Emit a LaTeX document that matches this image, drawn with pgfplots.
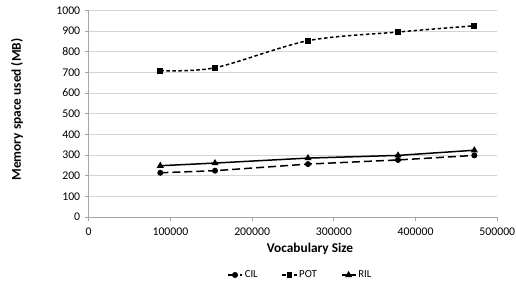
\documentclass[border=0pt]{standalone}
\usepackage{pgfplots}
\pgfplotsset{compat=1.18}
\usepackage{fontspec}
\setmainfont{Carlito}
\begin{document}
\begin{tikzpicture}
\begin{axis}[
  scale only axis, width=408.6bp, height=206.7bp,
  xmin=0, xmax=500000, ymin=0, ymax=1000,
  xtick={0,100000,200000,300000,400000,500000},
  xticklabels={0,100000,200000,300000,400000,500000},
  ytick={0,100,...,1000},
  yticklabels={0,100,200,300,400,500,600,700,800,900,1000},
  scaled x ticks=false,
  ymajorgrids, grid style={black!17, line width=0.9bp},
  axis x line*=bottom, axis y line*=left,
  axis line style={black!35, line width=0.9bp, -},
  tick style={black!35, line width=0.9bp}, tick align=outside, major tick length=4bp,
  ticklabel style={font=\fontsize{11.8}{13}\selectfont},
  xticklabel style={yshift=-3bp},
  yticklabel style={xshift=-1bp},
  xlabel={Vocabulary Size},
  ylabel={Memory space used (MB)},
  every axis x label/.style={at={(axis description cs:0.5416,0)}, anchor=center, yshift=-32bp, font=\fontsize{13.4}{15}\selectfont\bfseries},
  every axis y label/.style={at={(axis description cs:-0.1755,0.52)}, anchor=center, rotate=90, font=\fontsize{13.4}{15}\selectfont\bfseries},
  legend style={at={(axis description cs:0.518,0)}, anchor=center, yshift=-58bp, draw=none,
    font=\fontsize{10.8}{12}\selectfont, legend columns=3,
    /tikz/every even column/.append style={column sep=22bp}},
  legend image code/.code={\draw[mark repeat=2,mark phase=2,#1] plot coordinates {(0bp,0bp)(7bp,0bp)(14bp,0bp)};},
]
\addplot[black, line width=1.5bp, dash pattern=on 8bp off 4bp, mark=*, mark size=2.2bp, mark options={solid}]
coordinates {(87600,214) (154550,224) (268350,256) (378500,276) (471900,298)};
\addlegendentry{CIL}
\addplot[black, line width=1.5bp, smooth, dash pattern=on 3.5bp off 2.5bp, mark=square*, mark size=2.2bp, mark options={solid}]
coordinates {(87600,708) (154550,722) (268350,853) (378500,895) (471900,925)};
\addlegendentry{POT}
\addplot[black, line width=1.5bp, mark=triangle*, mark size=2.6bp, mark options={solid}]
coordinates {(87600,248) (154550,261) (268350,285) (378500,298) (471900,323)};
\addlegendentry{RIL}
\end{axis}
\pgfresetboundingbox
\path (-88.7bp,-64bp) rectangle (427.3bp,217bp);
\end{tikzpicture}
\end{document}
